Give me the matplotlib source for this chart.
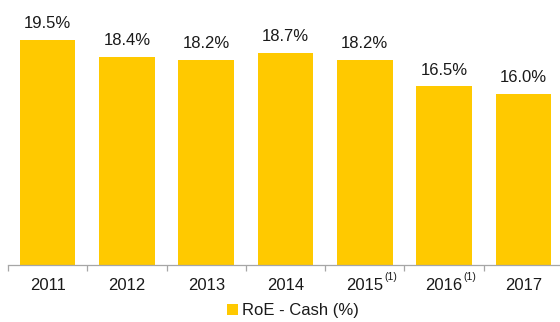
import matplotlib
matplotlib.use("Agg")
import matplotlib.pyplot as plt
from matplotlib.patches import Patch
import numpy as np

years = ["2011", "2012", "2013", "2014", "2015", "2016", "2017"]
roe_cash = [19.5, 18.4, 18.2, 18.7, 18.2, 16.5, 16.0]
footnoted = ["2015", "2016"]
series_name = "RoE - Cash (%)"

plt.rcParams["font.family"] = ["Liberation Sans", "DejaVu Sans"]
bar_color = "#FFC900"
text_color = "#1a1a1a"

fig = plt.figure(figsize=(5.6, 3.22), dpi=100)
# axes run slightly past the right edge, like the original
ax = fig.add_axes([8 / 560, 57 / 322, 555 / 560, 248 / 322])

x = np.arange(len(years))
bars = ax.bar(x, roe_cash, width=0.7, color=bar_color, zorder=2)
ax.set_xlim(-0.5, len(years) - 0.5)
ax.set_ylim(4.94, 21.0)

for xi, v in zip(x, roe_cash):
    ax.annotate(f"{v:.1f}%", (xi, v), xytext=(0, 8.5), textcoords="offset points",
                ha="center", va="baseline", fontsize=12, color=text_color)

for s in ["top", "right", "left"]:
    ax.spines[s].set_visible(False)
ax.spines["bottom"].set_color("#a6a6a6")
ax.spines["bottom"].set_linewidth(0.9)
ax.set_yticks([])

ax.set_xticks(x)
ax.set_xticklabels(years, fontsize=12, color=text_color)
ax.tick_params(axis="x", which="major", length=0, pad=9)
ax.set_xticks(np.arange(-0.5, len(years), 1.0), minor=True)
ax.tick_params(axis="x", which="minor", length=4, width=0.9, color="#a6a6a6")

for yr in footnoted:
    i = years.index(yr)
    ax.annotate("(1)", (i, 0), xycoords=("data", "axes fraction"),
                xytext=(13.8, -9), textcoords="offset points",
                ha="left", va="center", fontsize=7.5, color=text_color)

leg = fig.legend(handles=[Patch(facecolor=bar_color, label=series_name)],
                 loc="center", bbox_to_anchor=(293 / 560, 1 - 311 / 322),
                 frameon=False, fontsize=12, handlelength=0.65, handleheight=0.65,
                 handletextpad=0.25, labelcolor=text_color)

fig.savefig("out.png", dpi=100)
